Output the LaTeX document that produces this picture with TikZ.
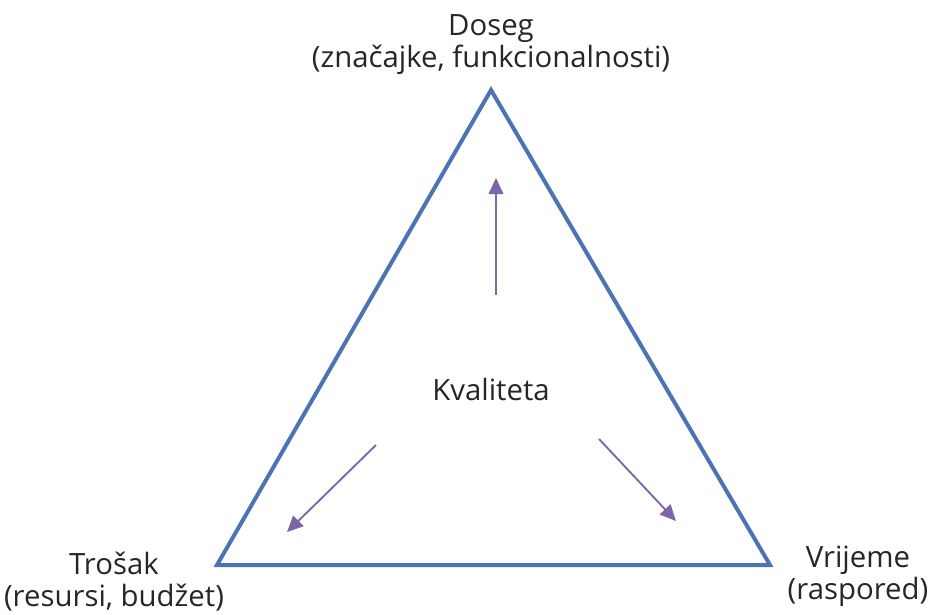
\documentclass[tikz,border=0pt]{standalone}
\usepackage{fontspec}
\setmainfont{Open Sans}
\usetikzlibrary{arrows.meta}
\definecolor{edgeblue}{HTML}{4A74B4}
\definecolor{arrowpurple}{HTML}{7D66A8}
\tikzset{
  side/.style={draw=edgeblue,line width=3pt,line join=miter},
  push/.style={draw=arrowpurple,line width=1.4pt,-{Triangle[length=12pt,width=11pt]}},
  corner/.style={inner sep=0,align=center,text=black!85,font=\fontsize{22}{24}\selectfont}
}
\begin{document}
\begin{tikzpicture}[x=0.75pt,y=-0.75pt]
  \useasboundingbox (0,0) rectangle (928,614);
  %% Corners of the triangle.
  \coordinate (T) at (491,90);
  \coordinate (L) at (217,565);
  \coordinate (R) at (770,565);
  \draw[side] (T) -- (L) -- (R) -- cycle;
  %% Labels at the corners.
  \node[corner] (doseg) at (491,45) {Doseg\\(značajke, funkcionalnosti)};
  \node[corner] (trosak) at (114,582) {Trošak\\(resursi, budžet)};
  \node[corner] (vrijeme) at (858,576) {Vrijeme\\(raspored)};
  \node[corner] (kval) at (491,389) {Kvaliteta};
  %% Arrows out of the middle.
  \coordinate (U1) at (496,295);
  \coordinate (U2) at (496,178);
  \coordinate (A1) at (376,445);
  \coordinate (A2) at (287,532);
  \coordinate (B1) at (599,439);
  \coordinate (B2) at (676,521);
  \draw[push] (U1) -- (U2);
  \draw[push] (A1) -- (A2);
  \draw[push] (B1) -- (B2);
\end{tikzpicture}
\end{document}
